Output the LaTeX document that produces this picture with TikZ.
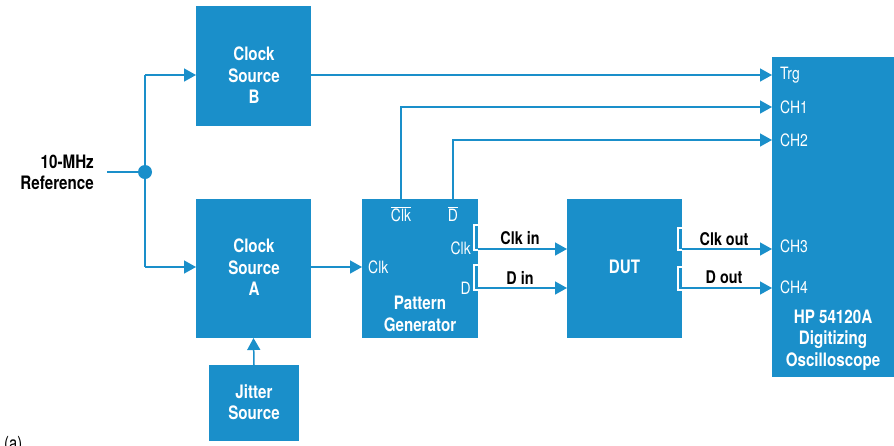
\documentclass[tikz,border=0pt]{standalone}
\usepackage{fontspec}
\setmainfont{TeX Gyre Heros}[FakeStretch=0.82]
\usetikzlibrary{arrows.meta}
\definecolor{hpblue}{HTML}{1A8FCA}
\begin{document}
\begin{tikzpicture}[x=1pt,y=-1pt,
 blk/.style={fill=hpblue,draw=none,inner sep=0,outer sep=0},
 btxt/.style={text=white,align=center,font=\bfseries\fontsize{18.5}{21.5}\selectfont,inner sep=0},
 port/.style={text=white,font=\fontsize{17}{19}\selectfont,inner sep=0},
 lbl/.style={text=black,font=\bfseries\fontsize{17.5}{19}\selectfont,inner sep=0},
 conn/.style={draw=hpblue,line width=1.5pt,-{Triangle[length=12pt,width=13pt]}},
 wire/.style={draw=hpblue,line width=1.5pt},
 brk/.style={draw=white,line width=1.3pt}]
\useasboundingbox (0,0) rectangle (894,445);
% blocks
\node[blk,minimum width=115pt,minimum height=120pt] (B) at (253.5,66) {};
\node[blk,minimum width=115pt,minimum height=139pt] (A) at (253.5,268.5) {};
\node[blk,minimum width=90pt,minimum height=76pt] (Jit) at (254,403) {};
\node[blk,minimum width=116pt,minimum height=139pt] (PG) at (420,268.5) {};
\node[blk,minimum width=115pt,minimum height=139pt] (DUT) at (624.5,268.5) {};
\node[blk,minimum width=124pt,minimum height=320pt] (S) at (834,217) {};
% block texts
\node[btxt] (Btxt) at (254,75.5) {Clock\\Source\\B};
\node[btxt] (Atxt) at (254,267.5) {Clock\\Source\\A};
\node[btxt,font=\bfseries\fontsize{18.5}{20.5}\selectfont] (Jtxt) at (254,402) {Jitter\\Source};
\node[btxt] (PGtxt) at (420,314) {Pattern\\Generator};
\node[btxt] (DUTtxt) at (624.5,267) {DUT};
\node[btxt] (Stxt) at (833,340) {HP 54120A\\Digitizing\\Oscilloscope};
% reference
\node[lbl,font=\bfseries\fontsize{18.5}{21}\selectfont,align=right,anchor=east] (ref) at (94,172.5) {10-MHz\\Reference};
\coordinate (refend) at (107,172);
\node[circle,fill=hpblue,minimum size=14pt,inner sep=0] (J) at (145,172) {};
\coordinate (tB) at (145,75);
\coordinate (tA) at (145,267);
% port labels
\node[port,anchor=west] (trg) at (780,75) {Trg};
\node[port,anchor=west] (ch1) at (780,107) {CH1};
\node[port,anchor=west] (ch2) at (780,140) {CH2};
\node[port,anchor=west] (ch3) at (780,246) {CH3};
\node[port,anchor=west] (ch4) at (780,287) {CH4};
\node[port,anchor=west] (pgclk) at (368,267) {Clk};
\node[port] (nclk) at (401,214) {\(\overline{\mbox{Clk}}\)};
\node[port] (nd) at (453,214) {\(\overline{\mbox{D}}\)};
\node[port,anchor=east] (oclk) at (471,248) {Clk};
\node[port,anchor=east] (od) at (471,288) {D};
% line labels
\node[lbl] (clkin) at (520,238) {Clk in};
\node[lbl] (din) at (520,278) {D in};
\node[lbl] (clkout) at (724,239) {Clk out};
\node[lbl] (dout) at (724,277) {D out};
\node[lbl,font=\fontsize{18}{20}\selectfont,anchor=base west] (fig) at (4,449) {(a)};
% connectors
\draw[wire] (refend) -- (J.center);
\draw[wire] (tB) -- (tA);
\draw[conn] (tB) -- (B.west |- tB);
\draw[conn] (tA) -- (A.west |- tA);
\draw[conn] (B.east |- trg) -- (S.west |- trg);
\draw[conn] (nclk |- PG.north) |- (S.west |- ch1);
\draw[conn] (nd |- PG.north) |- (S.west |- ch2);
\draw[conn] (A.east |- pgclk) -- (PG.west |- pgclk);
\draw[conn] (Jit.north) -- (A.south);
\coordinate (y1) at (0,249);
\coordinate (y2) at (0,288);
\draw[conn] (PG.east |- y1) -- (DUT.west |- y1);
\draw[conn] (PG.east |- y2) -- (DUT.west |- y2);
\draw[conn] (DUT.east |- y1) -- (S.west |- y1);
\draw[conn] (DUT.east |- y2) -- (S.west |- y2);
% brackets
\draw[brk] (478,225) -- (474,225) -- (474,250) -- (478,250);
\draw[brk] (478,265) -- (474,265) -- (474,290) -- (478,290);
\draw[brk] (682,228) -- (678,228) -- (678,250) -- (682,250);
\draw[brk] (682,267) -- (678,267) -- (678,290) -- (682,290);
\end{tikzpicture}
\end{document}
